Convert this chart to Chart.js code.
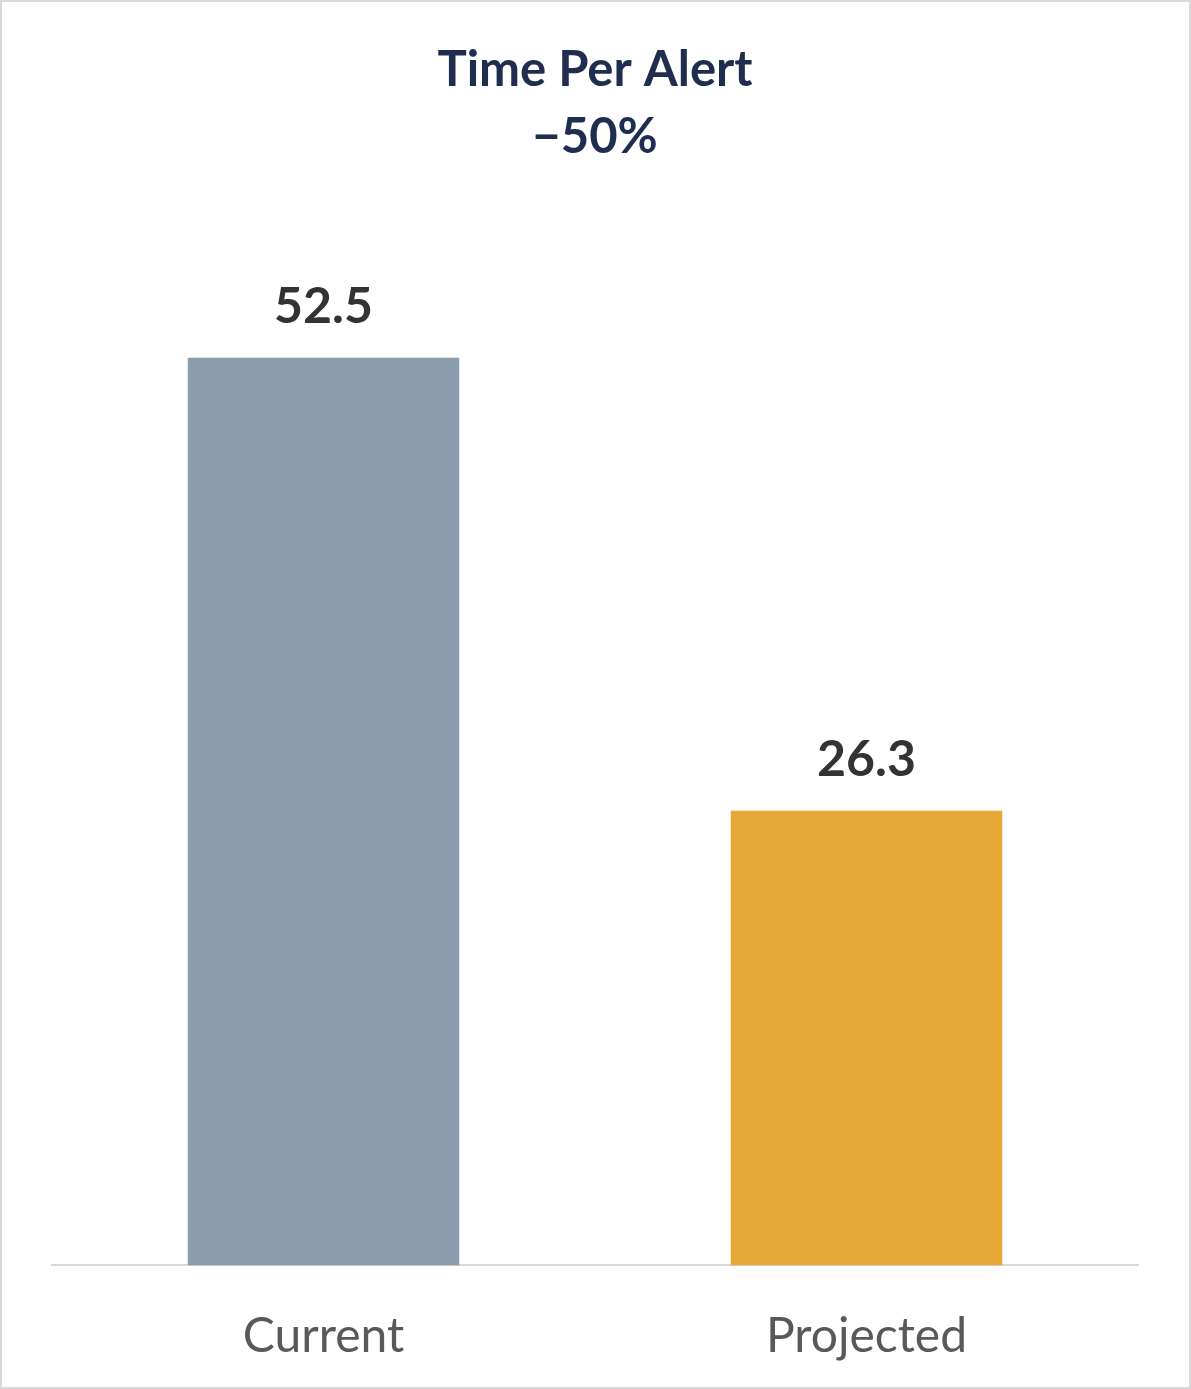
<!DOCTYPE html>
<html>
<head>
<meta charset="utf-8">
<script src="https://cdn.jsdelivr.net/npm/chart.js@4"></script>
<style>
  html, body { margin: 0; padding: 0; background: #fff; }
  #wrap { width: 1191px; height: 1389px; position: relative; box-sizing: border-box; border: 2px solid #d9d9d9; }
  canvas { position: absolute; left: -2px; top: -2px; }
</style>
</head>
<body>
<div id="wrap"><canvas id="c" width="1191" height="1389"></canvas></div>
<script>
const categories = ['Current', 'Projected'];
const values = [52.5, 26.3];
const barColors = ['#8c9caf', '#e7a837'];
const titleLines = ['Time Per Alert', '\u221250%'];

// title + value labels drawn on top
const overlay = {
  id: 'overlay',
  afterDatasetsDraw(chart) {
    const ctx = chart.ctx;
    ctx.save();
    ctx.textAlign = 'center';
    ctx.textBaseline = 'middle';
    ctx.fillStyle = '#1f2d4e';
    ctx.font = 'bold 49px Lato';
    ctx.fillText(titleLines[0], 595, 70);
    ctx.fillText(titleLines[1], 595, 137);
    ctx.fillStyle = '#333333';
    ctx.font = 'bold 50px Lato';
    chart.getDatasetMeta(0).data.forEach((bar, i) => {
      ctx.fillText(values[i].toFixed(1), bar.x, bar.y - 51);
    });
    ctx.restore();
  }
};

new Chart(document.getElementById('c'), {
  type: 'bar',
  data: {
    labels: categories,
    datasets: [{ data: values, backgroundColor: barColors, barPercentage: 0.5, categoryPercentage: 1 }]
  },
  options: {
    responsive: false,
    animation: false,
    layout: { padding: { top: 228, left: 52, right: 53, bottom: -10 } },
    plugins: { legend: { display: false }, tooltip: { enabled: false } },
    scales: {
      y: { display: false, min: 0, max: 60 },
      x: {
        grid: { display: false },
        border: { color: '#d9d9d9', width: 2 },
        ticks: { color: '#595959', padding: 34, font: { family: 'Lato', size: 48 } }
      }
    }
  },
  plugins: [overlay]
});
</script>
</body>
</html>
